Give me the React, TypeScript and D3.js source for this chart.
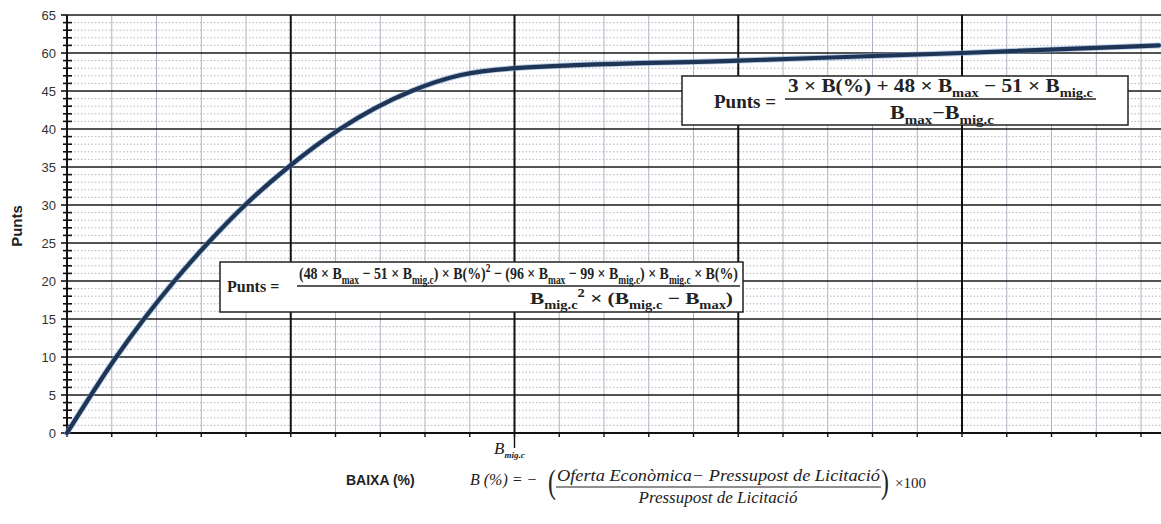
import React from "react";
import * as d3 from "d3";

// valors llegits del gràfic (eix X en divisions de la quadrícula, B_mig.c = 10)
const baixa = [0, 1.1, 1.72, 2.4, 3.15, 3.98, 4.95, 6.1, 7.7, 8.8, 10, 15, 20, 24.4];
const punts = [0, 10, 15, 20, 25, 30, 35, 40, 45, 47.1, 48, 49, 50, 51];
const bMigC = 10;

// posicions de les etiquetes de l'eix Y i el text imprès (tal com surt a l'original)
const yTickPos = [0, 5, 10, 15, 20, 25, 30, 35, 40, 45, 50, 55];
const yTickText = ["0", "5", "10", "15", "20", "25", "30", "35", "40", "45", "60", "65"];

const W = 1161;
const H = 524;

type Seg = [string, string];

const num1: Seg[] = [["3 × B(%) + 48 × B", ""], ["max", "sub"], [" − 51 × B", ""], ["mig.c", "sub"]];
const den1: Seg[] = [["B", ""], ["max", "sub"], ["−B", ""], ["mig.c", "sub"]];
const num2: Seg[] = [
  ["(48 × B", ""], ["max", "sub"], [" − 51 × B", ""], ["mig.c", "sub"], [") × B(%)", ""], ["2", "sup"],
  [" − (96 × B", ""], ["max", "sub"], [" − 99 × B", ""], ["mig.c", "sub"], [") × B", ""], ["mig.c", "sub"],
  [" × B(%)", ""],
];
const den2: Seg[] = [["B", ""], ["mig.c", "sub"], ["2", "sup"], [" × (B", ""], ["mig.c", "sub"], [" − B", ""], ["max", "sub"], [")", ""]];

const serif = "'Liberation Serif', 'DejaVu Serif', serif";
const sans = "'Liberation Sans', Arial, sans-serif";

function Formula(props: { x: number; y: number; segs: Seg[]; size: number; len?: number }) {
  const { x, y, segs, size, len } = props;
  let level = 0;
  return (
    <text x={x} y={y} fontFamily={serif} fontWeight="bold" fontSize={size} fill="#222"
      textLength={len} lengthAdjust={len ? "spacingAndGlyphs" : undefined}>
      {segs.map((s, i) => {
        const target = s[1] === "sub" ? size * 0.28 : s[1] === "sup" ? -size * 0.4 : 0;
        const dy = target - level;
        level = target;
        return (
          <tspan key={i} dy={dy} fontSize={s[1] ? size * 0.68 : size}>{s[0]}</tspan>
        );
      })}
    </text>
  );
}

export default function App() {
  const x = d3.scaleLinear().domain([0, 25]).range([67, 67 + 25 * 44.75]);
  const y = d3.scaleLinear().domain([0, 55]).range([433, 15]);

  const minorX = d3.range(1, 26).filter((d) => d % 5 !== 0);
  const majorX = [5, 10, 15, 20, 25];
  const minorY = d3.range(1, 55).filter((d) => d % 5 !== 0);
  const majorY = d3.range(5, 56, 5);

  const linia = d3
    .line<number>()
    .x((d) => x(d))
    .y((d, i) => y(punts[i]))
    .curve(d3.curveMonotoneX);
  const path = linia(baixa) || "";

  return (
    <svg width={W} height={H} style={{ position: "absolute", left: 0, top: 0, background: "#fff" }}>
      {/* quadrícula menor */}
      {minorY.map((d) => (
        <line key={"my" + d} x1={x(0)} x2={W} y1={y(d)} y2={y(d)} stroke="#aeaeba" strokeWidth={0.9} strokeDasharray="1.5,2" />
      ))}
      {minorX.map((d) => (
        <line key={"mx" + d} x1={x(d)} x2={x(d)} y1={y(0)} y2={y(55)} stroke="#b2b2c4" strokeWidth={1} />
      ))}
      {/* quadrícula major */}
      {majorY.map((d) => (
        <line key={"My" + d} x1={x(0)} x2={W} y1={y(d)} y2={y(d)} stroke="#1a1a1a" strokeWidth={1.6} />
      ))}
      {majorX.map((d) => (
        <line key={"Mx" + d} x1={x(d)} x2={x(d)} y1={y(0)} y2={y(55)} stroke="#111" strokeWidth={2} />
      ))}

      {/* eixos */}
      <line x1={x(0)} x2={x(0)} y1={y(0)} y2={y(55)} stroke="#111" strokeWidth={2} />
      <line x1={x(0)} x2={W} y1={y(0)} y2={y(0)} stroke="#111" strokeWidth={2} />
      {minorY.map((d) => (
        <line key={"ty" + d} x1={x(0) - 4} x2={x(0) + 5} y1={y(d)} y2={y(d)} stroke="#111" strokeWidth={1.6} />
      ))}
      {yTickPos.map((d) => (
        <line key={"tY" + d} x1={x(0) - 6} x2={x(0)} y1={y(d)} y2={y(d)} stroke="#111" strokeWidth={1.6} />
      ))}
      {d3.range(0, 26).map((d) => (
        <line key={"tx" + d} x1={x(d)} x2={x(d)} y1={y(0)} y2={y(0) + 4} stroke="#111" strokeWidth={1.4} />
      ))}
      <line x1={x(bMigC)} x2={x(bMigC)} y1={y(0)} y2={y(0) + 15} stroke="#111" strokeWidth={1.4} />

      {yTickPos.map((d, i) => (
        <text key={"l" + d} x={56} y={y(d)} dy="0.35em" textAnchor="end" fontFamily={sans} fontSize={13} fill="#333">
          {yTickText[i]}
        </text>
      ))}
      <text transform="translate(22,226) rotate(-90)" textAnchor="middle" fontFamily={sans} fontSize={15} fontWeight="bold" fill="#222">
        Punts
      </text>

      {/* corba */}
      <path d={path} fill="none" stroke="#7fa6d6" strokeWidth={6} strokeOpacity={0.55} strokeLinecap="round" />
      <path d={path} fill="none" stroke="#1f3556" strokeWidth={4.2} strokeLinecap="round" />

      {/* fórmula tram lineal */}
      <rect x={682} y={76} width={446} height={49} fill="#fff" stroke="#222" strokeWidth={1.5} />
      <text x={714} y={108} fontFamily={serif} fontWeight="bold" fontSize={19} fill="#222">Punts =</text>
      <Formula x={788} y={92} segs={num1} size={19} len={305} />
      <line x1={785} x2={1096} y1={99} y2={99} stroke="#222" strokeWidth={1.5} />
      <Formula x={890} y={119} segs={den1} size={19} len={104} />

      {/* fórmula tram quadràtic */}
      <rect x={220} y={262} width={523} height={50} fill="#fff" stroke="#222" strokeWidth={1.5} />
      <text x={227} y={292} fontFamily={serif} fontWeight="bold" fontSize={16} fill="#222">Punts =</text>
      <Formula x={299} y={279} segs={num2} size={17} len={439} />
      <line x1={297} x2={740} y1={286} y2={286} stroke="#222" strokeWidth={1.5} />
      <Formula x={530} y={304} segs={den2} size={17} len={203} />

      {/* etiqueta B mig.c */}
      <text x={494} y={454} fontFamily={serif} fontStyle="italic" fontSize={17} fill="#222">
        B<tspan dy={4} fontSize={9} fontWeight="bold">mig.c</tspan>
      </text>

      {/* títol eix X */}
      <text x={346} y={485} fontFamily={sans} fontWeight="bold" fontSize={14} fill="#222">BAIXA (%)</text>
      <text x={470} y={485} fontFamily={serif} fontStyle="italic" fontSize={16} fill="#222">B (%) = −</text>
      <text x={548} y={493} fontFamily={serif} fontSize={34} fill="#222" transform="translate(548,493) scale(0.7,1) translate(-548,-493)">(</text>
      <text x={557} y={481} fontFamily={serif} fontStyle="italic" fontSize={17} fill="#222" textLength={323} lengthAdjust="spacingAndGlyphs">
        Oferta Econòmica− Pressupost de Licitació
      </text>
      <line x1={556} x2={881} y1={487} y2={487} stroke="#222" strokeWidth={1.2} />
      <text x={718} y={503} textAnchor="middle" fontFamily={serif} fontStyle="italic" fontSize={17} fill="#222">
        Pressupost de Licitació
      </text>
      <text x={881} y={493} fontFamily={serif} fontSize={34} fill="#222" transform="translate(881,493) scale(0.7,1) translate(-881,-493)">)</text>
      <text x={895} y={488} fontFamily={serif} fontSize={15} fill="#222">×100</text>
    </svg>
  );
}
